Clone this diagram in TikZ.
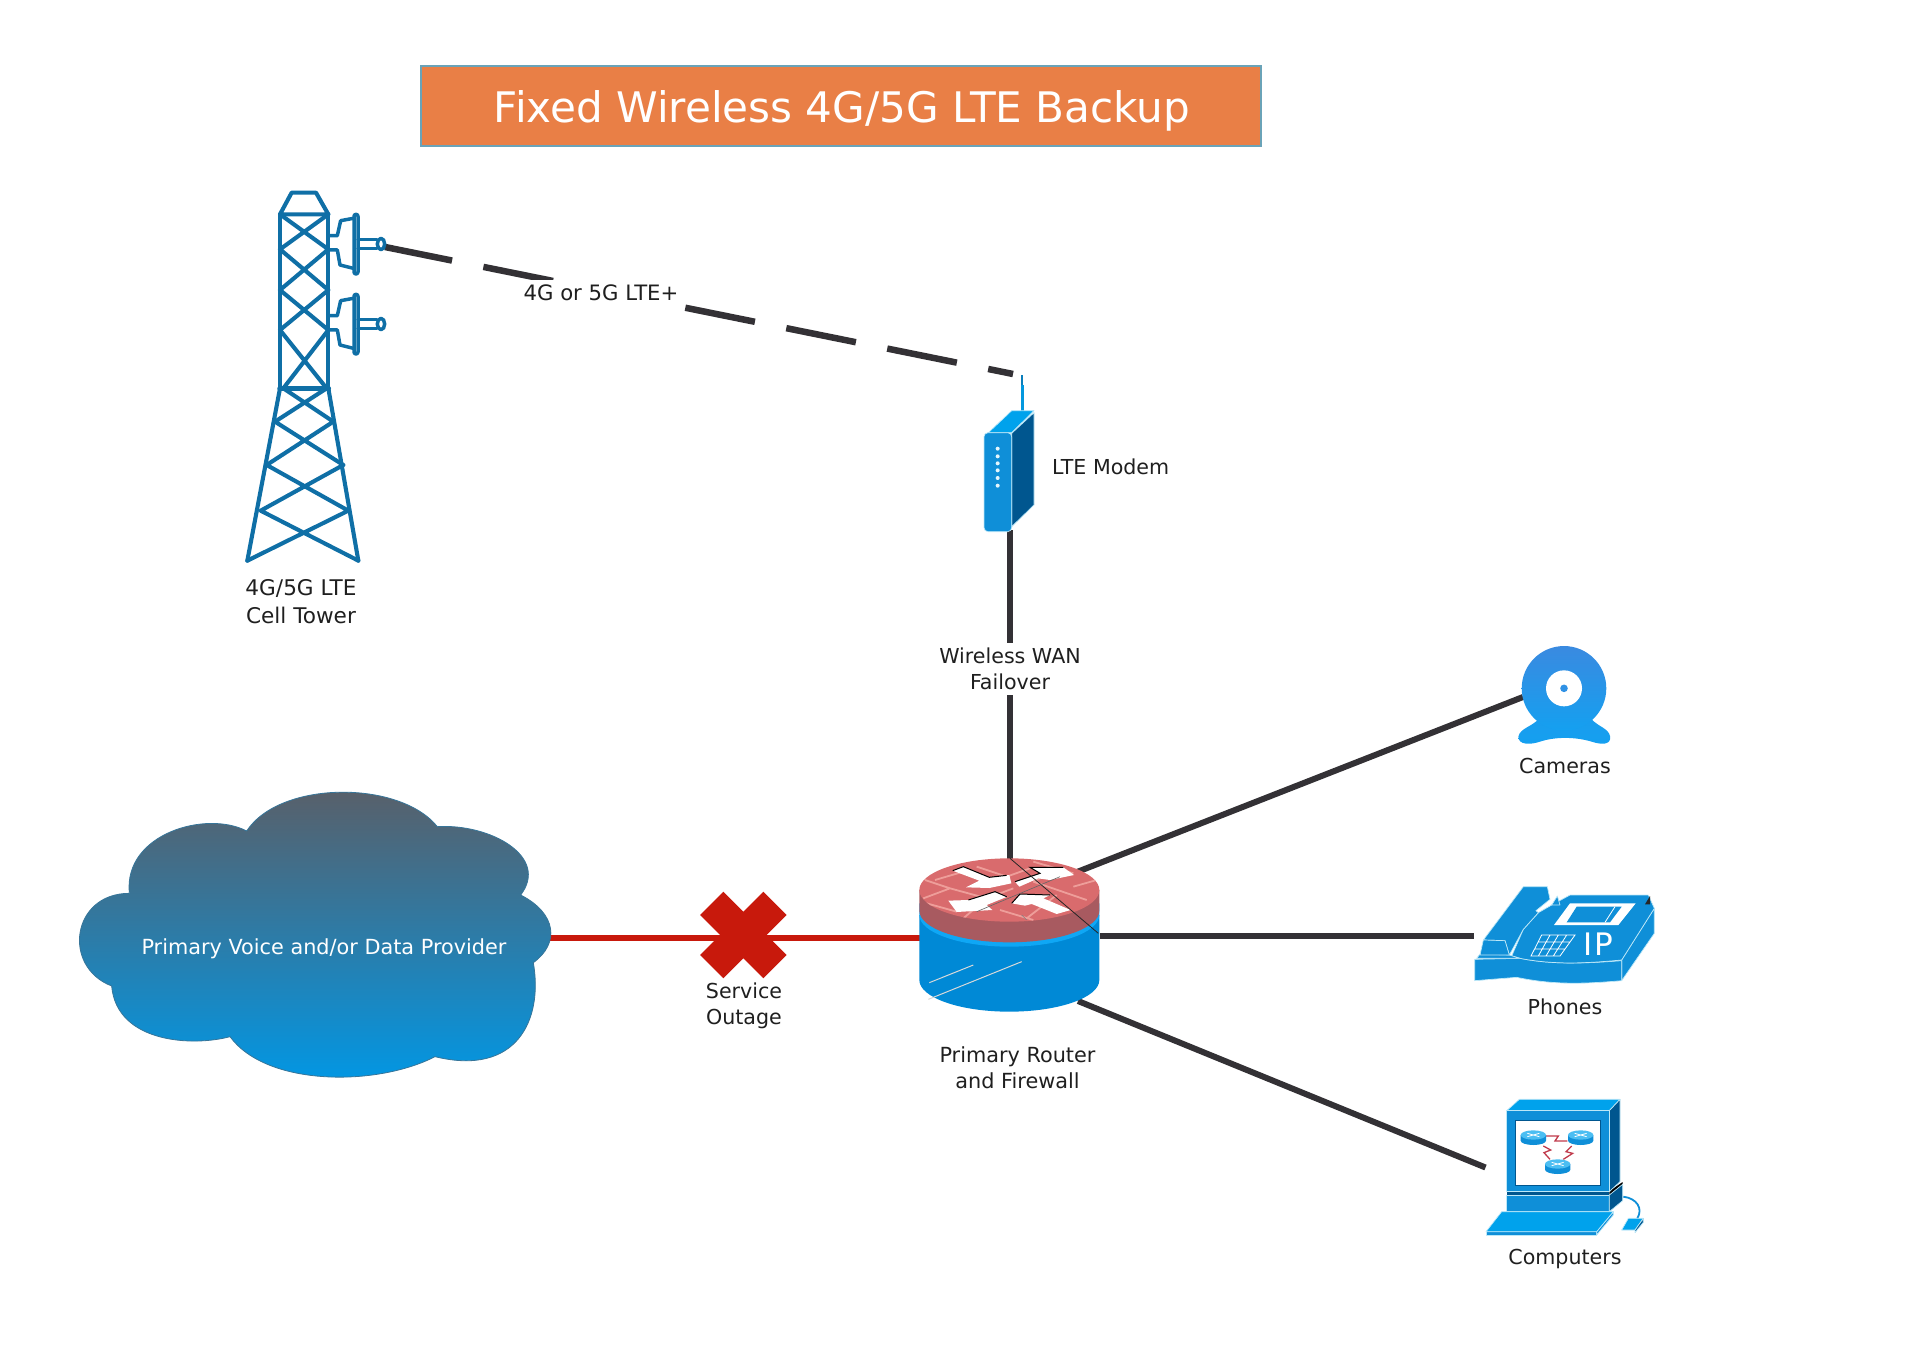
\documentclass[tikz,border=0pt]{standalone}
\usepackage{fontspec}
\setmainfont{DejaVu Sans}
\usetikzlibrary{calc}
\definecolor{towerblue}{HTML}{0F6FA6}
\definecolor{linegray}{HTML}{333135}
\definecolor{outred}{HTML}{C8190C}
\definecolor{titlefill}{HTML}{E97F46}
\definecolor{titleedge}{HTML}{6AA3B8}
\definecolor{iconblue}{HTML}{0F8FD8}
\definecolor{iconbright}{HTML}{00A2EC}
\definecolor{icondark}{HTML}{00568F}
\definecolor{iconedge}{HTML}{BDE8F8}
\definecolor{brickpale}{HTML}{EE9E9A}
\definecolor{cloudtop}{HTML}{5B5E66}
\definecolor{cloudbot}{HTML}{0098E6}
\definecolor{routertop}{HTML}{D96B6D}
\definecolor{routerside}{HTML}{A85A60}
\definecolor{routerblue}{HTML}{0089D6}
\definecolor{routerrim}{HTML}{0FA7F5}
\definecolor{camtop}{HTML}{3A8AE0}
\definecolor{cambot}{HTML}{14A0F0}
\definecolor{zigred}{HTML}{C0394A}
\tikzset{
  icon/.style={x=0.33333pt,y=-0.33333pt},
  lbl/.style={font=\fontsize{20.6}{26.5}\selectfont,text=black!88,align=center,inner sep=0pt},
  bglbl/.style={lbl,fill=white},
  link/.style={line width=6pt,draw=linegray},
  faillink/.style={line width=5.5pt,draw=outred},
  radiolink/.style={line width=6.5pt,draw=linegray,dash pattern=on 71pt off 32pt,dash phase=2.6pt},
  tw/.style={draw=towerblue,line width=4.1pt,line join=round,line cap=round},
  dw/.style={tw,line width=3.5pt},
  ic/.style={fill=iconblue,draw=iconedge,line width=0.7pt,line join=round},
  icb/.style={fill=iconbright,draw=iconedge,line width=0.7pt,line join=round},
  icd/.style={fill=icondark,draw=iconedge,line width=0.7pt,line join=round},
}
\newcommand{\dishicon}{%
  \draw[dw] (330,197) -- (352,197) -- (362,152) -- (400,145);
  \draw[dw] (330,240) -- (352,240) -- (360,285) -- (400,295);
  \draw[dw,rounded corners=2pt,fill=white] (402,133) rectangle (414,312);
  \draw[dw] (414,208) -- (470,208);
  \draw[dw] (414,236) -- (470,236);
  \draw[dw,fill=white] (483,222) ellipse [x radius=11,y radius=17];
}
\newcommand{\minirouter}[2]{%
  \begin{scope}[shift={(#1,#2)}]
    \fill[iconblue] (-38,0) -- (-38,17) arc[start angle=180,end angle=0,x radius=38,y radius=13] -- (38,0) -- cycle;
    \fill[iconbright!70!white] (0,0) ellipse [x radius=38,y radius=14];
    \draw[white,line width=0.8pt] (-18,-5) -- (18,5) (-18,5) -- (18,-5);
  \end{scope}
}
\begin{document}
\begin{tikzpicture}[x=1pt,y=-1pt]
\useasboundingbox (0,0) rectangle (1920,1356);

% anchor coordinates for connectors
\coordinate (towerAntenna) at (385,247);
\coordinate (modemAntenna) at (1013,374);
\coordinate (modemBottom) at (1010,530);
\coordinate (routerTop) at (1010,870);
\coordinate (routerNE) at (1077,872);
\coordinate (routerE) at (1100,936);
\coordinate (routerSE) at (1078,1001);
\coordinate (routerW) at (925,938);
\coordinate (cloudE) at (550,938);
\coordinate (cameraW) at (1523,697);
\coordinate (phoneW) at (1474,936);
\coordinate (computerW) at (1485.5,1167.5);

% connectors
\draw[radiolink] (towerAntenna) -- (modemAntenna);
\draw[link] (modemBottom) -- (routerTop);
\draw[link] (routerNE) -- (cameraW);
\draw[link] (routerE) -- (phoneW);
\draw[link] (routerSE) -- (computerW);
\draw[faillink] (cloudE) -- (routerW);

% title
\node[draw=titleedge,fill=titlefill,line width=1.6pt,minimum width=840pt,minimum height=80pt,inner sep=0pt] (title) at (841,106) {};
\node[text=white,inner sep=0pt,font=\fontsize{42.1}{50}\selectfont] (titleText) at (842,110.5) {Fixed Wireless 4G/5G LTE Backup};

% tower
\begin{scope}[shift={(220,170)},icon]
  \draw[tw] (180,133) -- (215,68) -- (288,68) -- (325,133) -- cycle;
  \draw[tw] (180,133) -- (180,655) (325,133) -- (325,655);
  \draw[tw] (180,133) -- (325,238) (325,133) -- (180,238)
            (180,238) -- (325,360) (325,238) -- (180,360)
            (180,360) -- (325,480) (325,360) -- (180,480)
            (180,480) -- (320,655) (325,480) -- (190,655);
  \draw[tw,line width=5.5pt] (180,655) -- (325,655);
  \draw[tw] (180,655) -- (82,1172) (325,655) -- (415,1172);
  \draw[tw] (190,655) -- (340,755) (320,655) -- (165,755)
            (165,755) -- (370,885) (340,755) -- (140,885)
            (140,885) -- (385,1022) (370,885) -- (122,1022)
            (122,1022) -- (415,1172) (385,1022) -- (82,1172);
  \dishicon
  \begin{scope}[yshift=-80pt]\dishicon\end{scope}
\end{scope}
\node[lbl,font=\fontsize{21.6}{28}\selectfont] (towerLabel) at (301,602) {4G/5G LTE\\Cell Tower};

% radio label
\node[bglbl,font=\fontsize{21.2}{26}\selectfont,minimum width=162pt,minimum height=26pt] (radioLabel) at (601,293) {4G or 5G LTE+};

% modem
\begin{scope}[shift={(960,360)},icon]
  \draw[iconbright!80!towerblue,line width=3pt] (186,152) -- (186,75);
  \draw[towerblue!70!iconbright,line width=2pt] (186,75) -- (186,45);
  \draw[icb] (85,218) -- (155,152) -- (222,152) -- (155,218) -- cycle;
  \draw[icd] (155,220) -- (222,158) -- (222,435) -- (155,500) -- cycle;
  \draw[ic,rounded corners=4pt] (72,218) rectangle (155,515);
  \foreach \dy in {266,289,310,331,354,377} \fill[iconedge!40!white] (113,\dy) circle (2pt);
\end{scope}
\node[lbl,anchor=west] (modemLabel) at (1052,467) {LTE Modem};

% failover label
\node[bglbl,minimum width=150pt,minimum height=52pt] (wanLabel) at (1010,669) {Wireless WAN\\Failover};

% cloud
\begin{scope}[shift={(60,770)},icon]
  \shade[top color=cloudtop,bottom color=cloudbot,draw=cloudtop!60!cloudbot,line width=0.8pt]
    (560,183) .. controls (660,30) and (1020,30) .. (1132,170)
    .. controls (1290,160) and (1470,260) .. (1382,375)
    .. controls (1490,430) and (1500,520) .. (1420,578)
    .. controls (1450,750) and (1370,920) .. (1125,860)
    .. controls (950,950) and (620,950) .. (510,800)
    .. controls (400,830) and (170,820) .. (155,648)
    .. controls (5,590) and (35,370) .. (208,370)
    .. controls (190,190) and (440,120) .. (560,183) -- cycle;
\end{scope}
\node[font=\fontsize{20.8}{24}\selectfont,text=white,inner sep=0pt] (cloudLabel) at (324,949) {Primary Voice and/or Data Provider};

% outage cross
\begin{scope}[shift={(680,880)},icon]
  \fill[outred] (130,35) -- (190,95) -- (250,35) -- (320,105) -- (260,165) -- (320,225) -- (250,295) -- (190,235) -- (130,295) -- (60,225) -- (120,165) -- (60,105) -- cycle;
\end{scope}
\node[lbl] (outageLabel) at (744,1006) {Service\\Outage};

% router
\begin{scope}[shift={(900,840)},icon]
  \fill[routerblue] (58,225) -- (58,420) arc[start angle=180,end angle=0,x radius=270,y radius=95] -- (598,225) -- cycle;
  \fill[routerrim] (58,225) arc[start angle=180,end angle=0,x radius=270,y radius=95] -- (598,190) -- (58,190) -- cycle;
  \fill[routerside] (58,150) -- (58,212) arc[start angle=180,end angle=0,x radius=270,y radius=95] -- (598,150) -- cycle;
  \fill[routertop] (328,150) ellipse [x radius=270,y radius=95];
  \begin{scope}
    \clip (328,150) ellipse [x radius=270,y radius=95];
    \draw[brickpale,line width=1.8pt]
      (75,120) -- (150,145) (105,120) -- (190,95) (150,145) -- (70,175)
      (150,145) -- (260,175) (260,175) -- (190,235) (80,190) -- (170,215)
      (230,80) -- (320,110) (320,110) -- (390,85) (400,65) -- (520,100)
      (470,90) -- (400,125) (400,125) -- (560,180) (520,140) -- (590,120)
      (470,165) -- (380,235) (260,175) -- (340,145) (300,210) -- (400,240);
  \end{scope}
  % switching arrows
  \fill[white] (158,92) -- (190,80) -- (268,112) -- (328,105) -- (334,130) -- (268,144) -- (198,142) -- (238,122) -- cycle;
  \draw[black,line width=1pt] (158,92) -- (190,80) -- (268,112) -- (320,106);
  \fill[white] (345,125) -- (420,100) -- (390,82) -- (490,82) -- (522,105) -- (450,120) -- (415,115) -- (358,140) -- cycle;
  \draw[black,line width=1pt] (345,125) -- (420,100) -- (390,82) -- (490,82);
  \fill[white] (145,182) -- (205,180) -- (285,155) -- (322,170) -- (260,195) -- (277,210) -- (170,216) -- cycle;
  \draw[black,line width=1pt] (205,180) -- (285,155) -- (320,170);
  \fill[white] (335,190) -- (360,162) -- (450,165) -- (430,175) -- (512,210) -- (470,222) -- (395,192) -- (375,197) -- cycle;
  \draw[black,line width=1pt] (335,190) -- (360,162) -- (450,165);
  % thin strokes
  \draw[black!85,line width=0.8pt] (330,55) -- (595,280);
  \draw[black!60,line width=0.6pt] (230,215) -- (480,110);
  \draw[black!50!white,line width=0.5pt] (365,225) -- (380,240);
  \draw[white!70!gray,line width=1pt] (88,428) -- (220,375);
  \draw[white!70!gray,line width=1pt] (85,478) -- (365,365);
\end{scope}
\node[lbl,font=\fontsize{20.8}{26.5}\selectfont] (routerLabel) at (1017.5,1067.5) {Primary Router\\and Firewall};

% camera
\begin{scope}[shift={(1500,630)},icon]
  \shade[top color=cambot!85!camtop,bottom color=cambot]
    (115,268) .. controls (95,290) and (60,295) .. (55,320)
    .. controls (55,345) and (90,345) .. (120,335)
    .. controls (165,320) and (225,320) .. (275,335)
    .. controls (305,345) and (335,345) .. (330,318)
    .. controls (325,295) and (295,290) .. (275,268) -- cycle;
  \shade[top color=camtop,bottom color=cambot] (192,175) circle (42.3pt);
  \fill[white] (192,175) circle (18pt);
  \fill[camtop!70!cambot] (192,175) circle (3.8pt);
\end{scope}
\node[lbl] (cameraLabel) at (1565,766) {Cameras};

% phone
\begin{scope}[shift={(1470,870)},icon]
  \draw[ic] (455,270) -- (553,115) -- (553,190) -- (455,332) -- cycle;
  \draw[ic] (14,268) -- (150,265) .. controls (250,285) and (350,280) .. (455,272) -- (455,332) .. controls (340,342) and (250,345) .. (140,322) -- (14,332) -- cycle;
  \draw[ic] (125,258) -- (160,178) -- (205,128) -- (245,105) -- (300,75) -- (535,75) -- (553,115) -- (455,270) .. controls (350,280) and (250,285) .. (150,265) -- cycle;
  \draw[ic] (20,265) -- (30,252) -- (118,255) -- (150,265) -- cycle;
  \draw[ic] (40,210) -- (160,50) -- (232,50) -- (240,88) -- (198,122) -- (205,128) -- (160,178) -- (118,255) -- (105,212) -- cycle;
  \draw[ic] (40,210) -- (105,212) -- (118,255) -- (30,255) -- cycle;
  \draw[ic] (245,105) -- (262,78) -- (270,105) -- cycle;
  \fill[black!85] (525,103) -- (540,78) -- (540,103) -- cycle;
  \fill[white] (300,100) -- (497,100) -- (445,165) -- (252,165) -- cycle;
  \fill[iconblue] (320,110) -- (455,110) -- (420,157) -- (290,157) -- cycle;
  \draw[white,line width=0.8pt] (435,110) -- (405,157);
  \draw[white,line width=0.8pt]
    (215,195) -- (315,195) -- (270,258) -- (183,258) -- cycle
    (204,216) -- (300,216) (193,237) -- (285,237)
    (240,195) -- (205,258) (265,195) -- (228,258) (290,195) -- (250,258);
  \node[text=white,font=\fontsize{31}{31}\selectfont,inner sep=0pt] (phoneIP) at (385,222) {I\kern2ptP};
\end{scope}
\node[lbl] (phoneLabel) at (1565,1006.5) {Phones};

% computer
\begin{scope}[shift={(1480,1090)},icon]
  \fill[icondark] (80,303) rectangle (388,318);
  \fill[black] (388,303) -- (428,276) -- (428,288) -- (388,316) -- cycle;
  \draw[ic] (80,315) rectangle (388,365);
  \draw[icd] (388,315) -- (428,283) -- (428,332) -- (388,365) -- cycle;
  \draw[iconblue,line width=1.8pt] (430,320) .. controls (470,325) and (490,355) .. (472,385);
  \draw[icb] (445,385) -- (490,385) -- (465,420) -- (425,420) -- cycle;
  \draw[icd] (490,385) -- (490,397) -- (465,428) -- (465,420) -- cycle;
  \draw[ic] (18,425) -- (350,425) -- (350,435) -- (18,435) -- cycle;
  \draw[ic] (350,425) -- (400,365) -- (400,375) -- (350,435) -- cycle;
  \draw[icb] (65,365) -- (400,365) -- (350,425) -- (18,425) -- cycle;
  \draw[icb] (80,62) -- (118,28) -- (420,28) -- (388,62) -- cycle;
  \draw[icd] (388,62) -- (420,28) -- (420,275) -- (388,305) -- cycle;
  \draw[ic] (80,62) rectangle (388,305);
  \draw[fill=white,draw=icondark,line width=1pt] (107,92) rectangle (362,285);
  \draw[zigred,line width=1.3pt]
    (198,138) -- (235,138) -- (225,153) -- (262,153)
    (190,168) -- (212,180) -- (192,188) -- (210,208)
    (275,168) -- (258,185) -- (278,190) -- (250,208);
  \minirouter{160}{135}
  \minirouter{302}{135}
  \minirouter{233}{222}
\end{scope}
\node[lbl] (computerLabel) at (1565,1259) {Computers};
\end{tikzpicture}
\end{document}
